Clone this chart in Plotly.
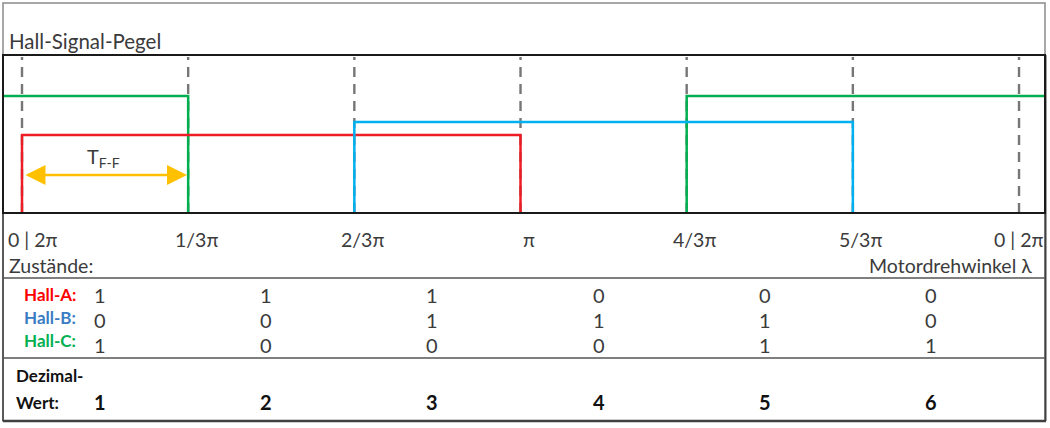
import plotly.graph_objects as go

# ---------------- data ----------------
tick_labels = ["0 | 2π", "1/3π", "2/3π", "π", "4/3π", "5/3π", "0 | 2π"]
signal_names = ["Hall-A:", "Hall-B:", "Hall-C:"]
hall_a = [1, 1, 1, 0, 0, 0]
hall_b = [0, 0, 1, 1, 1, 0]
hall_c = [1, 0, 0, 0, 1, 1]
dezimal = [1, 2, 3, 4, 5, 6]

# ---------------- layout helpers (style) ----------------
W, H = 1050, 428
X0PX, UNIT = 22.0, 166.17          # pixel of angle 0, pixels per π/3
XMIN = -X0PX / UNIT
XMAX = (W - X0PX) / UNIT
BOX_TOP, BOX_BOT = 55, 213


def py(px):
    return 1 - px / H


def pxx(px):
    return px / W


def dx(px):
    return (px - X0PX) / UNIT


colors = {"A": "#EE1C25", "B": "#00B0F0", "C": "#00B050"}
label_colors = {"A": "#FF0000", "B": "#3A7CC4", "C": "#00B050"}
levels = {"A": (BOX_BOT - 135) / (BOX_BOT - BOX_TOP),
          "B": (BOX_BOT - 122) / (BOX_BOT - BOX_TOP),
          "C": (BOX_BOT - 96) / (BOX_BOT - BOX_TOP)}
x_left_edge, x_right_edge = dx(3), dx(1045)


def step_path(states, high, low=0.0):
    n = len(states)
    xs, ys = [], []
    k = 0
    while k < n:
        if states[k]:
            a = k
            while k < n and states[k]:
                k += 1
            b = k
            wrap_l = a == 0 and states[-1] == 1
            wrap_r = b == n and states[0] == 1
            if wrap_l:
                xs += [x_left_edge]; ys += [high]
            else:
                xs += [a, a]; ys += [low, high]
            if wrap_r:
                xs += [x_right_edge]; ys += [high]
            else:
                xs += [b, b]; ys += [high, low]
            xs.append(None); ys.append(None)
        else:
            k += 1
    return xs, ys


fig = go.Figure()
for key, states, name in [("C", hall_c, "Hall-C"), ("A", hall_a, "Hall-A"), ("B", hall_b, "Hall-B")]:
    xs, ys = step_path(states, levels[key])
    fig.add_trace(go.Scatter(x=xs, y=ys, mode="lines", name=name,
                             line=dict(color=colors[key], width=2.5),
                             hoverinfo="skip", showlegend=False))

shapes = []
# dashed phase lines
for k in range(len(tick_labels)):
    shapes.append(dict(type="line", xref="x", yref="paper", x0=k, x1=k,
                       y0=py(BOX_BOT), y1=py(57), layer="below",
                       line=dict(color="#767676", width=2.4, dash="10px,7px")))
# outer frame
shapes.append(dict(type="rect", xref="paper", yref="paper", x0=pxx(3), x1=pxx(1045),
                   y0=py(421), y1=py(3), line=dict(color="#8a8a8a", width=1.5)))
shapes.append(dict(type="line", xref="paper", yref="paper", x0=pxx(3), x1=pxx(1046),
                   y0=py(421), y1=py(421), line=dict(color="#404040", width=2.5)))
shapes.append(dict(type="line", xref="paper", yref="paper", x0=pxx(1045.5), x1=pxx(1045.5),
                   y0=py(421), y1=py(55), line=dict(color="#404040", width=2)))
shapes.append(dict(type="line", xref="paper", yref="paper", x0=pxx(3), x1=pxx(3),
                   y0=py(421), y1=py(55), line=dict(color="#404040", width=1.5)))
# signal box
shapes.append(dict(type="rect", xref="paper", yref="paper", x0=pxx(3), x1=pxx(1045),
                   y0=py(BOX_BOT), y1=py(BOX_TOP), line=dict(color="#1a1a1a", width=2)))
# separators
for ypx in (278, 358):
    shapes.append(dict(type="line", xref="paper", yref="paper", x0=pxx(3), x1=pxx(1045),
                       y0=py(ypx), y1=py(ypx), line=dict(color="#555555", width=1.5)))

FONT = "Lato, 'Open Sans', sans-serif"
TXT = "#3b3b3b"
ann = []
ann.append(dict(text="Hall-Signal-Pegel", xref="paper", yref="paper", x=pxx(7), y=py(41),
                xanchor="left", yanchor="middle", showarrow=False,
                font=dict(family=FONT, size=20.5, color=TXT)))
# tick labels
for k, lab in enumerate(tick_labels):
    if k == 0:
        ann.append(dict(text=lab, xref="paper", x=pxx(6), xanchor="left"))
    elif k == len(tick_labels) - 1:
        ann.append(dict(text=lab, xref="paper", x=pxx(1046), xanchor="right"))
    else:
        ann.append(dict(text=lab, xref="x", x=k, xanchor="center", xshift=8))
    ann[-1].update(yref="paper", y=py(240), yanchor="middle", showarrow=False,
                   font=dict(family=FONT, size=19.5, color=TXT))
ann.append(dict(text="Zustände:", xref="paper", yref="paper", x=pxx(7), y=py(265),
                xanchor="left", yanchor="middle", showarrow=False,
                font=dict(family=FONT, size=19.5, color=TXT)))
ann.append(dict(text="Motordrehwinkel λ", xref="paper", yref="paper", x=pxx(1034), y=py(265),
                xanchor="right", yanchor="middle", showarrow=False,
                font=dict(family=FONT, size=19.5, color=TXT)))
# state table
row_y = [295, 320, 345]
for r, (key, name, states) in enumerate(zip("ABC", signal_names, [hall_a, hall_b, hall_c])):
    ann.append(dict(text="<b>%s</b>" % name, xref="paper", yref="paper", x=pxx(78),
                    y=py([294, 317, 340][r]), xanchor="right", yanchor="middle", showarrow=False,
                    font=dict(family=FONT, size=17, color=label_colors[key])))
    for k, v in enumerate(states):
        ann.append(dict(text=str(v), xref="x", yref="paper", x=k + 0.47, y=py(row_y[r]),
                        xanchor="center", yanchor="middle", showarrow=False,
                        font=dict(family=FONT, size=20, color=TXT)))
ann.append(dict(text="<b>Dezimal-</b>", xref="paper", yref="paper", x=pxx(14), y=py(375),
                xanchor="left", yanchor="middle", showarrow=False,
                font=dict(family=FONT, size=17, color="#111111")))
ann.append(dict(text="<b>Wert:</b>", xref="paper", yref="paper", x=pxx(14), y=py(402),
                xanchor="left", yanchor="middle", showarrow=False,
                font=dict(family=FONT, size=17, color="#111111")))
for k, v in enumerate(dezimal):
    ann.append(dict(text="<b>%d</b>" % v, xref="x", yref="paper", x=k + 0.47, y=py(402),
                    xanchor="center", yanchor="middle", showarrow=False,
                    font=dict(family=FONT, size=20, color="#111111")))
# T_F-F arrow
arrow_y = (BOX_BOT - 175) / (BOX_BOT - BOX_TOP)
ann.append(dict(text="", xref="x", yref="y", x=dx(187), y=arrow_y,
                axref="x", ayref="y", ax=dx(24), ay=arrow_y,
                showarrow=True, arrowside="end+start", arrowhead=2, arrowsize=1.6,
                arrowwidth=2.5, arrowcolor="#FFC000", standoff=0, startstandoff=0))
ann.append(dict(text="T<sub>F-F</sub>", xref="x", yref="y", x=dx(103),
                y=(BOX_BOT - 157) / (BOX_BOT - BOX_TOP),
                xanchor="center", yanchor="middle", showarrow=False,
                font=dict(family=FONT, size=20, color=TXT)))

fig.update_layout(
    width=W, height=H, margin=dict(l=0, r=0, t=0, b=0),
    paper_bgcolor="white", plot_bgcolor="white",
    xaxis=dict(range=[XMIN, XMAX], visible=False, fixedrange=True),
    yaxis=dict(range=[0, 1], domain=[py(BOX_BOT), py(BOX_TOP)], visible=False, fixedrange=True),
    shapes=shapes, annotations=ann, showlegend=False,
)
fig.write_html("out.html", config={"displayModeBar": False},
               post_script="document.body.style.margin='0';document.body.style.overflow='hidden';")
